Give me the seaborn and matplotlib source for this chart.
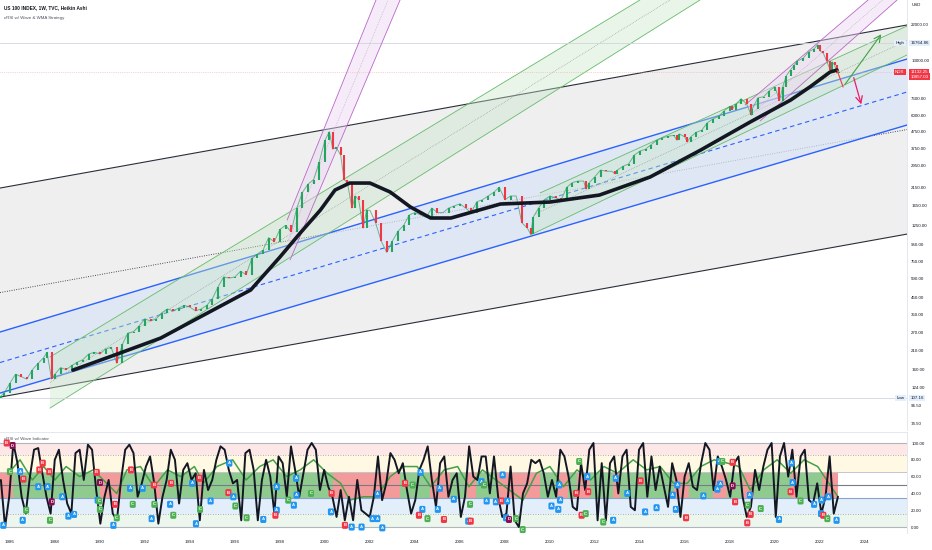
import matplotlib
matplotlib.use("Agg")
import matplotlib.pyplot as plt
from matplotlib import font_manager
import numpy as np
import pandas as pd
import seaborn as sns

# ---------------- data ----------------
# NDX closes (roughly quarterly, extra points around big moves)
price_years = [1985.6, 1985.75, 1986.0, 1986.25, 1986.5, 1986.75, 1987.0, 1987.25, 1987.5, 1987.65,
               1987.85, 1988.0, 1988.25, 1988.5, 1988.75, 1989.0, 1989.25, 1989.5, 1989.75, 1990.0,
               1990.25, 1990.5, 1990.75, 1991.0, 1991.25, 1991.5, 1991.75, 1992.0, 1992.25, 1992.5,
               1992.75, 1993.0, 1993.25, 1993.5, 1993.75, 1994.0, 1994.25, 1994.5, 1994.75, 1995.0,
               1995.25, 1995.5, 1995.75, 1996.0, 1996.25, 1996.5, 1996.75, 1997.0, 1997.25, 1997.5,
               1997.75, 1998.0, 1998.25, 1998.5, 1998.75, 1999.0, 1999.25, 1999.5, 1999.75, 2000.0,
               2000.2, 2000.35, 2000.5, 2000.7, 2000.85, 2001.0, 2001.2, 2001.35, 2001.5, 2001.7,
               2001.85, 2002.0, 2002.25, 2002.5, 2002.75, 2003.0, 2003.25, 2003.5, 2003.75, 2004.0,
               2004.25, 2004.5, 2004.75, 2005.0, 2005.25, 2005.5, 2005.75, 2006.0, 2006.25, 2006.5,
               2006.75, 2007.0, 2007.25, 2007.5, 2007.75, 2008.0, 2008.25, 2008.5, 2008.75, 2009.0,
               2009.15, 2009.25, 2009.5, 2009.75, 2010.0, 2010.25, 2010.5, 2010.75, 2011.0, 2011.25,
               2011.5, 2011.6, 2011.75, 2012.0, 2012.25, 2012.5, 2012.75, 2012.9, 2013.0, 2013.25,
               2013.5, 2013.75, 2014.0, 2014.25, 2014.5, 2014.75, 2015.0, 2015.25, 2015.5, 2015.65,
               2015.75, 2016.0, 2016.1, 2016.25, 2016.5, 2016.75, 2017.0, 2017.25, 2017.5, 2017.75,
               2018.0, 2018.1, 2018.25, 2018.5, 2018.75, 2018.95, 2019.0, 2019.25, 2019.5, 2019.75,
               2020.0, 2020.2, 2020.35, 2020.5, 2020.7, 2020.85, 2021.0, 2021.25, 2021.5, 2021.75,
               2021.9, 2022.0, 2022.15, 2022.3, 2022.45, 2022.55, 2022.65, 2022.75, 2022.85]
price_close = [110, 115, 132, 150, 145, 140, 160, 175, 190, 205,
               140, 150, 165, 160, 170, 178, 185, 200, 205, 200,
               215, 220, 175, 230, 270, 275, 300, 330, 320, 330,
               360, 380, 370, 385, 400, 390, 370, 380, 400, 440,
               520, 600, 590, 600, 650, 620, 780, 830, 880, 1050,
               990, 1180, 1250, 1140, 1600, 2000, 2250, 2400, 3100, 4200,
               4750, 3700, 3800, 3400, 2400, 2300, 1600, 1900, 1800, 1200,
               1550, 1550, 1300, 1000, 850, 1000, 1150, 1250, 1450, 1500,
               1450, 1400, 1600, 1500, 1500, 1600, 1650, 1700, 1600, 1500,
               1750, 1800, 1900, 2000, 2150, 1800, 1900, 1900, 1300, 1200,
               1100, 1400, 1600, 1800, 1900, 1850, 1800, 2150, 2300, 2350,
               2350, 2100, 2300, 2500, 2750, 2700, 2700, 2600, 2750, 2900,
               3000, 3400, 3600, 3700, 3950, 4200, 4350, 4450, 4500, 4200,
               4600, 4400, 4100, 4400, 4700, 4850, 5400, 5700, 5900, 6400,
               6800, 6500, 7000, 7600, 7000, 6000, 6600, 7700, 7800, 8500,
               9000, 7400, 9000, 10500, 11500, 12200, 13000, 13500, 14800, 15500,
               16400, 15000, 14500, 13000, 11500, 12800, 12300, 11000, 11132]

wma_years = [1988.8, 1990.9, 1992.7, 1994.45, 1996.7, 1998.0, 1998.9, 1999.8, 2000.45, 2001.1,
             2002.0, 2002.9, 2003.8, 2004.7, 2005.6, 2007.8, 2010.0, 2012.2, 2014.45, 2016.7,
             2018.9, 2020.7, 2021.55, 2022.45, 2022.76]
wma_vals = [159, 203, 251, 339, 498, 796, 1120, 1555, 2068, 2284,
            2284, 2010, 1624, 1388, 1388, 1694, 1743, 1925, 2488, 3654,
            5447, 7451, 8967, 11100, 11420]

# cRSI, sampled evenly from 1985.6 to 2022.8
osc_vals = [56, 0, 36, 100, 76, 36, 16, 60, 92, 94, 64, 36, 16, 80, 92, 56, 28, 16, 88, 92,
            56, 98, 92, 44, 4, 36, 56, 16, 8, 56, 92, 98, 88, 36, 52, 72, 84, 52, 4, 36,
            56, 92, 80, 28, 68, 76, 56, 64, 8, 68, 44, 56, 80, 96, 92, 68, 52, 56, 8, 88,
            92, 68, 8, 56, 80, 60, 16, 84, 76, 36,
            96, 68, 36, 64, 92, 100, 92, 44, 68, 48, 36, 12, 44, 8, 36, 8, 56, 20, 16, 12,
            36, 84, 32, 52, 88, 80, 64, 76, 44, 16, 32, 68, 80, 96, 56, 24, 76, 84, 36, 56,
            64, 12, 36, 96, 60, 56, 84, 84, 40, 84, 36, 12, 16, 72, 8, 0, 40, 52, 80, 76,
            80, 64, 36, 56, 36, 92, 84, 60, 24, 20, 76, 44, 92, 100, 8, 76, 8, 76,
            84, 40, 84, 92, 24, 20, 92, 100, 36, 84, 44, 72, 48, 24, 76, 56, 12, 60, 76, 48,
            44, 76, 100, 92, 44, 84, 72, 56, 36, 76, 84, 36, 12, 24, 68, 44, 72, 92, 100, 12,
            84, 100, 60, 92, 36, 84, 92, 32, 28, 52, 16, 36, 84, 16, 36]

wave_years = [1986.0, 1986.45, 1987.0, 1987.5, 1988.0, 1988.5, 1989.1, 1989.7, 1990.3, 1990.75,
              1991.2, 1991.8, 1992.4, 1993.0, 1993.6, 1994.2, 1994.6, 1995.2, 1995.9, 1996.5,
              1997.1, 1997.7, 1998.3, 1998.9, 1999.5, 2000.1, 2000.7, 2001.1, 2001.7, 2002.3,
              2002.9, 2003.5, 2004.1, 2004.7, 2005.3, 2005.9, 2006.4, 2007.0, 2007.6, 2008.2,
              2008.8, 2009.4, 2010.0, 2010.6, 2011.2, 2011.8, 2012.4, 2013.0, 2013.7, 2014.3,
              2014.9, 2015.5, 2016.1, 2016.7, 2017.3, 2017.9, 2018.4, 2018.9, 2019.5, 2020.1,
              2020.7, 2021.3, 2021.9, 2022.3, 2022.8]
wave_vals = [66, 80, 56, 72, 56, 72, 60, 68, 52, 40,
             68, 72, 48, 68, 60, 72, 52, 72, 80, 56,
             72, 80, 60, 68, 80, 64, 52, 32, 36, 36,
             60, 72, 72, 48, 68, 72, 48, 68, 56, 44,
             32, 64, 72, 48, 68, 56, 72, 64, 80, 68,
             72, 52, 52, 72, 80, 76, 72, 44, 68, 80,
             64, 80, 72, 56, 36]

red_start = [1985.56, 1990.0, 1992.4, 1994.4, 2000.36, 2004.67, 2006.3, 2007.65, 2010.3, 2011.2,
             2012.8, 2015.5, 2017.25, 2018.6, 2020.7, 2022.1]
red_end = [1986.14, 1991.0, 1992.7, 1994.6, 2003.34, 2005.56, 2006.7, 2009.56, 2010.8, 2011.8,
           2013.1, 2016.2, 2017.85, 2019.05, 2021.0, 2022.82]

sig_years = [1985.86, 1986.12, 1986.0, 1986.45, 1986.6, 1985.71, 1986.57, 1986.72, 1987.31, 1987.46,
             1987.75, 1987.26, 1987.68, 1987.86, 1987.78, 1988.33, 1988.6, 1988.85, 1989.86, 1990.0,
             1989.9, 1989.97, 1990.0, 1990.67, 1990.75, 1990.6, 1991.38, 1991.34, 1991.46, 1991.9,
             1992.4, 1992.42, 1992.3, 1993.16, 1993.12, 1993.26, 1994.1, 1994.42, 1994.45, 1994.27,
             1994.92, 1995.75, 1995.71, 1995.93, 1996.02, 1996.52, 1997.26, 1997.86, 1997.86, 1997.8,
             1998.37, 1998.62, 1998.74, 1998.72,
             1999.38, 2000.3, 2000.27, 2000.89, 2001.19, 2001.63, 2002.12, 2002.33, 2002.34, 2002.55,
             2003.56, 2003.9, 2004.25, 2004.33, 2004.18, 2004.56, 2005.11, 2005.02, 2005.29, 2005.73,
             2006.45, 2006.37, 2006.48, 2006.96, 2007.07, 2007.19, 2007.9, 2007.6, 2007.85, 2008.1,
             2008.05, 2008.18, 2008.49, 2008.79, 2010.07, 2010.37, 2010.41, 2010.45, 2011.16, 2011.3,
             2011.66, 2011.7, 2011.41, 2011.59, 2012.37, 2012.81, 2012.93,
             2013.44, 2014.03, 2014.23, 2014.74, 2015.46, 2015.66, 2015.6, 2016.05, 2016.82, 2017.44,
             2017.56, 2017.53, 2017.66, 2018.12, 2018.12, 2018.23, 2018.89, 2018.79, 2018.92, 2018.77,
             2019.37, 2020.18, 2020.74, 2020.79, 2020.7, 2021.14, 2021.74, 2022.08, 2022.05, 2022.15,
             2022.33, 2022.37, 2022.74]
sig_vals = [100, 97, 66, 66, 57, 2, 8, 20, 68, 76,
            66, 48, 48, 30, 8, 36, 13, 15, 65, 53,
            32, 31, 21, 27, 11, 2, 68, 46, 27, 46,
            50, 27, 10, 52, 27, 14, 52, 58, 21, 4,
            31, 76, 41, 36, 25, 11, 9, 48, 20, 14,
            32, 26, 38, 58,
            40, 40, 18, 2, 0, 0, 10, 10, 39, -1,
            52, 50, 65, 21, 14, 10, 46, 21, 9, 33,
            27, 7, 7, 54, 50, 31, 62, 30, 31, 31,
            11, 9, 10, -3, 25, 21, 50, 32, 40, 78,
            60, 42, 14, 16, 6, 8, 58,
            40, 55, 18, 23, 38, 50, 21, 11, 37, 45,
            51, 78, 78, 77, 49, 30, 38, 26, 15, 5,
            22, 9, 76, 53, 42, 31, 27, 32, 16, 14,
            10, 36, 8]
sig_letters = list("BDCABAACBBBAADCAAABDACCBCABACABCABACABCAAABACCAAABCAAACB"
                   "ABAAAAAABCAABCAABACABACAAABAADCCAAAABCABBCCAAAB"
                   "AAAAABAAAACBDBACBBCAAABCAAABCAABA")

# price scale labels of the right axis
price_ticks = [22000, 13000, 7600, 6000, 4750, 3750, 2950, 2150, 1650, 1250, 950, 750,
               590, 450, 350, 270, 210, 160, 124, 96.5, 74.5]
osc_ticks = [0, 20, 40, 60, 80, 100]
year_ticks = list(range(1986, 2025, 2))

high_val, low_val, last_val, prev_val = 16764.86, 107.16, 11132.25, 10857.03

# ---------------- style ----------------
sns.set_theme(style="white")
names = {f.name for f in font_manager.fontManager.ttflist}
fam = [f for f in ["Liberation Sans Narrow", "Liberation Sans", "DejaVu Sans"] if f in names]
plt.rcParams["font.family"] = fam
FS = 3.2
TXT = "#131722"

fig = plt.figure(figsize=(9.32, 5.5), dpi=100)
ax = fig.add_axes([0, 1 - 430 / 550, 907 / 932, 430 / 550])
axi = fig.add_axes([0, 1 - 533 / 550, 907 / 932, 101 / 550], sharex=ax)

X0, X1 = 1985.56, 2025.87
ax.set_yscale("log")
ax.set_xlim(X0, X1)
ax.set_ylim(67.8, 30967)


def band(xa, ya, xb, yb, xc, yc, xd, yd, face, edge, alpha, mid, z, lw=0.7, mls=":"):
    # two channel lines a->b (upper) and c->d (lower)
    ax.fill([xa, xb, xd, xc], [ya, yb, yd, yc], color=face, alpha=alpha, zorder=z, lw=0)
    ax.plot([xa, xb], [ya, yb], color=edge, lw=lw, zorder=z + 0.1)
    ax.plot([xc, xd], [yc, yd], color=edge, lw=lw, zorder=z + 0.1)
    if mid:
        ax.plot([(xa + xc) / 2, (xb + xd) / 2], [np.sqrt(ya * yc), np.sqrt(yb * yd)],
                color=mid, lw=lw * 0.8, ls=mls, zorder=z + 0.1)


# big regression channel
band(X0, 2127, X1, 21690, X0, 108.3, X1, 1104, "#efeff0", "#2a2e39", 1, "#2a2e39", 0.5, lw=0.8)
# blue channel
band(X0, 273.7, X1, 13363, X0, 114.7, X1, 5219, "#dbe5f6", "#2962ff", 0.7, "#2962ff", 0.7,
     lw=1.0, mls=(0, (4, 3)))
# green channel 1987-2014
band(1987.78, 191.7, 2014.0, 30967, 1987.78, 92.6, 2016.67, 30967, "#c8e6c9", "#66bb6a", 0.4,
     "#8d8d8d", 0.9, lw=0.6)
# green channel 2009-
band(2009.56, 1982, X1, 21380, 2009.12, 1088, X1, 14150, "#c8e6c9", "#66bb6a", 0.4,
     "#8d8d8d", 0.9, lw=0.6)
# purple channels
band(1998.32, 1348, 2002.27, 30967, 1998.45, 763, 2003.34, 30967, "#ecd7f3", "#ba68c8", 0.45,
     "#b0a0b8", 1.0, lw=0.6)
band(2018.67, 6940, 2024.14, 30967, 2019.34, 5525, 2025.43, 30967, "#ecd7f3", "#ba68c8", 0.45,
     "#b0a0b8", 1.0, lw=0.6)

ax.axhline(high_val, color="#d1d4dc", lw=0.6, zorder=1)
ax.axhline(low_val, color="#d1d4dc", lw=0.6, zorder=1)
ax.axhline(last_val, color="#f7a9a9", lw=0.5, ls=":", zorder=1)

# candles
close = np.array(price_close, dtype=float)
opens = np.r_[close[0] * 0.97, close[:-1]]
up = close >= opens
cols = np.where(up, "#22a55e", "#f23645")
ax.plot(price_years, close, color="#3c9d6a", lw=0.7, alpha=0.7, zorder=2.9)
ax.vlines(price_years, np.minimum(opens, close), np.maximum(opens, close), colors=cols,
          lw=1.5, zorder=3)

# WMA
sns.lineplot(x=wma_years, y=wma_vals, ax=ax, color="#131722", lw=2.6, zorder=4, legend=False)

# projection arrows
ax.plot([2022.76, 2023.03], [11420, 8967], color="#f23645", lw=0.8, zorder=5)
ax.annotate("", xy=(2024.8, 19630), xytext=(2023.03, 8967),
            arrowprops=dict(arrowstyle="->", color="#43a047", lw=0.8), zorder=5)
ax.annotate("", xy=(2023.87, 6745), xytext=(2023.47, 10640),
            arrowprops=dict(arrowstyle="->", color="#e91e63", lw=0.9), zorder=5)

# right axis
ax.yaxis.tick_right()
ax.set_yticks(price_ticks)
ax.set_yticklabels([f"{v:.2f}" for v in price_ticks])
ax.yaxis.set_minor_locator(matplotlib.ticker.NullLocator())
ax.tick_params(axis="y", length=0, pad=3, labelsize=FS, colors=TXT)
ax.tick_params(axis="x", bottom=False, labelbottom=False)
for s in ["top", "left", "bottom"]:
    ax.spines[s].set_visible(False)
ax.spines["right"].set_color("#e0e3eb")
ax.spines["right"].set_linewidth(0.6)
ax.set_xlabel("")
ax.set_ylabel("")

yt = ax.get_yaxis_transform()
box = dict(boxstyle="square,pad=0.3", ec="none")
ax.text(1.005, 29000, "USD", transform=yt, fontsize=FS, color=TXT, va="center", ha="left")
ax.text(1.004, high_val, f"{high_val:.2f}", transform=yt, fontsize=FS, color=TXT, va="center",
        ha="left", bbox={**box, "fc": "#e3effd"})
ax.text(0.997, high_val, "High", transform=yt, fontsize=FS, color=TXT, va="center", ha="right",
        bbox={**box, "fc": "#e3effd"})
ax.text(1.004, low_val, f"{low_val:.2f}", transform=yt, fontsize=FS, color=TXT, va="center",
        ha="left", bbox={**box, "fc": "#e3effd"})
ax.text(0.997, low_val, "Low", transform=yt, fontsize=FS, color=TXT, va="center", ha="right",
        bbox={**box, "fc": "#e3effd"})
ax.text(1.004, last_val, f"{last_val:.2f}", transform=yt, fontsize=FS, color="white",
        va="center", ha="left", bbox={**box, "fc": "#f23645"})
ax.text(1.004, prev_val * 0.985, f"{prev_val:.2f}", transform=yt, fontsize=FS, color="white",
        va="top", ha="left", bbox={**box, "fc": "#f23645"})
ax.text(0.997, last_val, "NDX", transform=yt, fontsize=FS, color="white", va="center",
        ha="right", bbox={**box, "fc": "#f23645"})

fig.text(4 / 932, 1 - 8 / 550, "US 100 INDEX, 1W, TVC, Heikin Ashi", fontsize=FS + 0.2,
         color=TXT, va="center", weight="bold")
fig.text(4 / 932, 1 - 18 / 550, "cRSI w/ Wave & WMA Strategy", fontsize=FS, color="#50535e",
         va="center")

# ---------------- indicator pane ----------------
axi.set_ylim(-7.1, 113.1)
last_x = 2022.82
axi.axhspan(86, 100, color="#fde7e7", lw=0, zorder=0)
axi.axhspan(65, 86, color="#fff9e3", lw=0, zorder=0)
axi.axhspan(15, 35, color="#e3eefb", lw=0, zorder=0)
axi.axhspan(0, 15, color="#edf6ec", lw=0, zorder=0)
axi.fill_between([1986.14, last_x], 35, 65, color="#8fcb8f", lw=0, zorder=0.5)
for a, b in zip(red_start, red_end):
    axi.fill_between([a, b], 35, 65, color="#f39a9a", lw=0, zorder=0.6)
axi.axhline(100, color="#b2b5be", lw=0.8, zorder=1)
axi.axhline(86, color="#9598a1", lw=0.6, ls=(0, (1, 2)), zorder=1)
axi.axhline(65, color="#c3c6ce", lw=0.7, zorder=1)
axi.axhline(50, color="#787b86", lw=0.8, zorder=1)
axi.axhline(35, color="#8aa4cc", lw=0.8, zorder=1)
axi.axhline(15, color="#9598a1", lw=0.6, ls=(0, (1, 2)), zorder=1)
axi.axhline(0, color="#b2b5be", lw=0.8, zorder=1)

osc_years = np.linspace(1985.6, 2022.8, len(osc_vals))
osc = pd.DataFrame({"year": osc_years, "crsi": osc_vals})
sns.lineplot(data=osc, x="year", y="crsi", ax=axi, color="#131722", lw=1.4, zorder=3,
             legend=False)
sns.lineplot(x=wave_years, y=wave_vals, ax=axi, color="#43a047", lw=1.1, zorder=2.5,
             legend=False)

sig_col = {"A": "#2196f3", "B": "#f23645", "C": "#4caf50", "D": "#880e4f"}
for x, v, l in zip(sig_years, sig_vals, sig_letters):
    axi.text(x, v, l, fontsize=3.1, color="white", ha="center", va="center", zorder=4,
             weight="bold", bbox=dict(boxstyle="round,pad=0.35", fc=sig_col[l], ec="none"))

axi.text(0.004, 104.5, "cRSI w/ Wave Indicator", transform=axi.get_yaxis_transform(),
         fontsize=FS, color="#50535e", va="center", ha="left", zorder=3.5)

axi.yaxis.tick_right()
axi.set_yticks(osc_ticks)
axi.set_yticklabels([f"{v:.2f}" for v in osc_ticks])
axi.tick_params(axis="y", length=0, pad=3, labelsize=FS, colors=TXT)
axi.set_xticks(year_ticks)
axi.set_xticklabels([str(y) for y in year_ticks])
axi.tick_params(axis="x", length=0, pad=5, labelsize=FS, colors=TXT)
axi.set_xlim(X0, X1)
for s in ["left", "bottom"]:
    axi.spines[s].set_visible(False)
for s in ["top", "right"]:
    axi.spines[s].set_color("#e0e3eb")
    axi.spines[s].set_linewidth(0.6)
axi.set_xlabel("")
axi.set_ylabel("")

fig.savefig("out.png", dpi=100)
